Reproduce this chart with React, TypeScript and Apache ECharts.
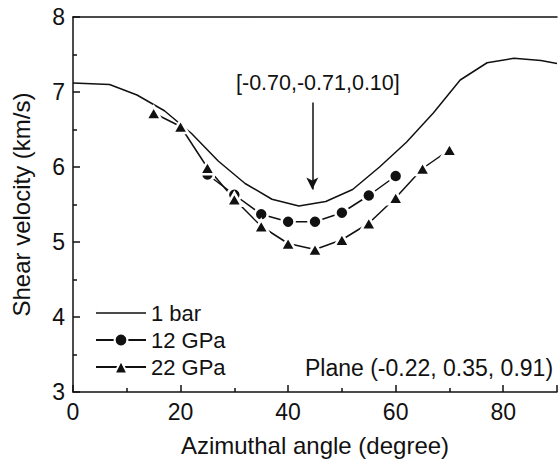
import React, { useEffect, useRef } from "react";
import * as echarts from "echarts";

const barAngles = [0, 6.8, 11.9, 17, 22, 27, 32, 37, 42, 47, 52, 57, 62, 67, 72, 77, 82, 87, 90];
const barValues = [7.12, 7.1, 6.96, 6.75, 6.45, 6.08, 5.78, 5.57, 5.48, 5.54, 5.7, 6.0, 6.33, 6.72, 7.16, 7.39, 7.45, 7.42, 7.38];

const gpa12Angles = [25, 30, 35, 40, 45, 50, 55, 60];
const gpa12Values = [5.9, 5.63, 5.37, 5.27, 5.27, 5.39, 5.62, 5.88];

const gpa22Angles = [15, 20, 25, 30, 35, 40, 45, 50, 55, 60, 65, 70];
const gpa22Values = [6.72, 6.54, 5.99, 5.57, 5.21, 4.98, 4.9, 5.03, 5.25, 5.59, 5.98, 6.23];

const seriesNames = ["1 bar", "12 GPa", "22 GPa"];
const directionLabel = "[-0.70,-0.71,0.10]";
const planeLabel = "Plane (-0.22, 0.35, 0.91)";
const arrowAngle = 44.5;
const arrowFrom = 6.86;
const arrowTo = 5.7;

const FONT = "Liberation Sans, Arial, sans-serif";
const INK = "#111";
const LINE_ICON = "path://M0,0h0.01v16h-0.01z M0,7.25h50v1.5h-50z";

const zip = (a: number[], b: number[]) => a.map((x, i) => [x, b[i]]);

export default function App() {
  const ref = useRef<HTMLDivElement>(null);
  useEffect(() => {
    if (!ref.current) return;
    const chart = echarts.init(ref.current, undefined, { renderer: "svg" });
    const axisCommon = {
      axisLine: { show: true, lineStyle: { color: INK, width: 1.5 } },
      splitLine: { show: false },
    };
    chart.setOption({
      animation: false,
      backgroundColor: "#fff",
      textStyle: { fontFamily: FONT },
      grid: { left: 73, top: 17, width: 491, height: 376 },
      legend: {
        orient: "vertical",
        left: 90,
        top: 297,
        itemWidth: 50,
        itemHeight: 16,
        itemGap: 5,
        data: [
          { name: seriesNames[0], icon: LINE_ICON, itemStyle: { color: INK } },
          { name: seriesNames[1] },
          { name: seriesNames[2] },
        ],
        textStyle: { fontSize: 22, color: INK, fontFamily: FONT },
      },
      xAxis: [
        {
          type: "value",
          min: 0,
          max: 90,
          interval: 20,
          ...axisCommon,
          axisTick: { show: true, inside: true, length: 7, lineStyle: { color: INK, width: 1.5 } },
          minorTick: { show: true, splitNumber: 2, length: 4, lineStyle: { color: INK, width: 1.5 } },
          axisLabel: {
            fontSize: 23,
            color: INK,
            margin: 8,
            fontFamily: FONT,
            formatter: (v: number) => (v > 85 ? "" : String(v)),
          },
          name: "Azimuthal angle (degree)",
          nameLocation: "middle",
          nameGap: 41,
          nameTextStyle: { fontSize: 24, color: INK, fontFamily: FONT },
        },
        {
          type: "value",
          position: "top",
          min: 0,
          max: 90,
          ...axisCommon,
          axisTick: { show: false },
          axisLabel: { show: false },
        },
      ],
      yAxis: {
        type: "value",
        min: 3,
        max: 8,
        interval: 1,
        ...axisCommon,
        axisTick: { show: true, inside: true, length: 7, lineStyle: { color: INK, width: 1.5 } },
        minorTick: { show: true, splitNumber: 2, length: 4, lineStyle: { color: INK, width: 1.5 } },
        axisLabel: { fontSize: 23, color: INK, margin: 8, fontFamily: FONT },
        name: "Shear velocity (km/s)",
        nameLocation: "middle",
        nameGap: 40,
        nameTextStyle: { fontSize: 24, color: INK, fontFamily: FONT },
      },
      series: [
        {
          name: seriesNames[0],
          type: "line",
          data: zip(barAngles, barValues),
          showSymbol: false,
          symbol: "none",
          lineStyle: { color: INK, width: 1.5 },
          itemStyle: { color: INK },
          markLine: {
            silent: true,
            symbol: ["none", "arrow"],
            symbolSize: [9, 12],
            label: { show: false },
            lineStyle: { color: INK, width: 1.5, type: "solid" },
            data: [[{ coord: [arrowAngle, arrowFrom] }, { coord: [arrowAngle, arrowTo] }]],
          },
        },
        {
          name: seriesNames[1],
          type: "line",
          data: zip(gpa12Angles, gpa12Values),
          symbol: "circle",
          symbolSize: 13,
          lineStyle: { color: INK, width: 1.5 },
          itemStyle: { color: INK, borderColor: "#fff", borderWidth: 2.5 },
        },
        {
          name: seriesNames[2],
          type: "line",
          data: zip(gpa22Angles, gpa22Values),
          symbol: "triangle",
          symbolSize: [15, 13],
          lineStyle: { color: INK, width: 1.5 },
          itemStyle: { color: INK, borderColor: "#fff", borderWidth: 2.5 },
        },
      ],
      graphic: [
        {
          type: "text",
          left: 236,
          top: 72,
          style: { text: directionLabel, fontSize: 21.5, fill: INK, fontFamily: FONT },
        },
        {
          type: "text",
          left: 305,
          top: 356,
          style: { text: planeLabel, fontSize: 23, fill: INK, fontFamily: FONT },
        },
      ],
    });
    return () => chart.dispose();
  }, []);
  return <div ref={ref} style={{ width: 560, height: 462, position: "absolute", left: 0, top: 0 }} />;
}
